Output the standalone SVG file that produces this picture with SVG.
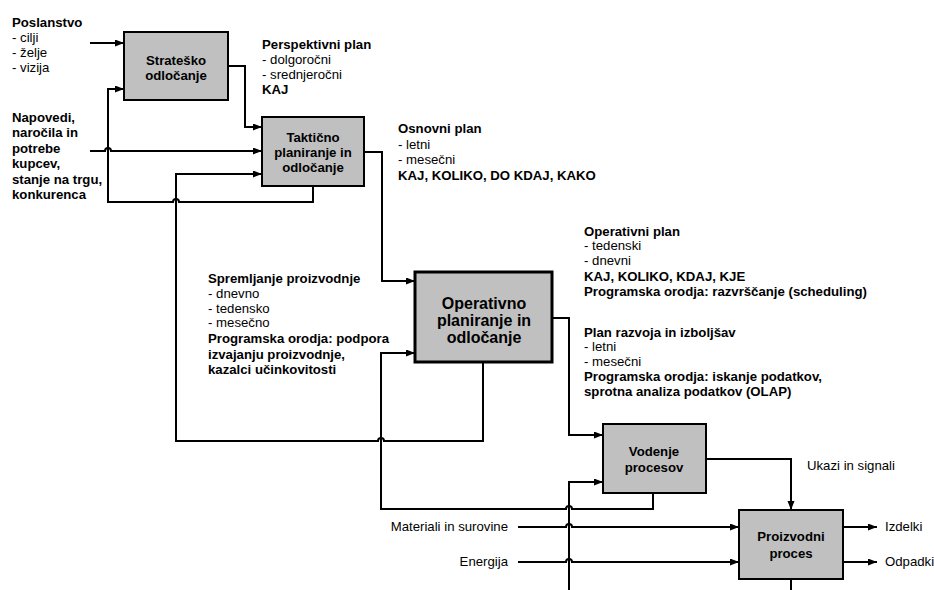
<svg xmlns="http://www.w3.org/2000/svg" width="934" height="590" viewBox="0 0 934 590">
<style>
text{font-family:"Liberation Sans",Arial,sans-serif;font-size:13.2px;fill:#000}
.b{font-weight:bold}
.c{text-anchor:middle}
.e{text-anchor:end}
.big{font-size:16px;font-weight:bold}
.box{fill:#c0c0c0;stroke:#000;stroke-width:2}
.ln{fill:none;stroke:#000;stroke-width:2}
.arr{marker-end:url(#ah)}
</style>
<defs>
<marker id="ah" markerUnits="userSpaceOnUse" markerWidth="10" markerHeight="8" refX="9" refY="3.5" orient="auto">
<path d="M0,0 L9,3.5 L0,7 z" fill="#000"/>
</marker>
</defs>
<rect width="934" height="590" fill="#fff"/>
<g id="connectors">
<path class="ln arr" d="M90,43 H124"/>
<path class="ln arr" d="M228,66 H245 V127 H262"/>
<path class="ln arr" d="M90,151 H105 a3,3 0 0 1 6,0 H262"/>
<path class="ln arr" d="M313,186 V202 H179 a3,3 0 0 0 -6,0 H108 V89 H124"/>
<path class="ln arr" d="M483,362 V441 H384 a3,3 0 0 0 -6,0 H176 V174 H262"/>
<path class="ln arr" d="M364,152 H382 V281 H415"/>
<path class="ln arr" d="M653,493 V509 H572 a3,3 0 0 0 -6,0 H381 V353 H415"/>
<path class="ln arr" d="M552,318 H569 V435 H603"/>
<path class="ln arr" d="M569,590 V482 H603"/>
<path class="ln arr" d="M706,459 H791 V510"/>
<path class="ln arr" d="M518,527 H566 a3,3 0 0 1 6,0 H739"/>
<path class="ln arr" d="M518,562 H566 a3,3 0 0 1 6,0 H739"/>
<path class="ln arr" d="M843,527 H877"/>
<path class="ln arr" d="M843,562 H877"/>
<path class="ln" d="M791,579 V590"/>
</g>
<g id="stratesko">
<rect class="box" x="124" y="32" width="104" height="68"/>
<text class="b c" x="176" y="65">Strateško</text>
<text class="b c" x="176" y="80">odločanje</text>
</g>
<g id="takticno">
<rect class="box" x="262" y="117" width="102" height="69"/>
<text class="b c" x="313" y="142">Taktično</text>
<text class="b c" x="313" y="157">planiranje in</text>
<text class="b c" x="313" y="172">odločanje</text>
</g>
<g id="operativno">
<rect class="box" x="415" y="272" width="137" height="90" style="stroke-width:3"/>
<text class="big c" x="484" y="309">Operativno</text>
<text class="big c" x="484" y="326">planiranje in</text>
<text class="big c" x="484" y="343">odločanje</text>
</g>
<g id="vodenje">
<rect class="box" x="603" y="424" width="103" height="69"/>
<text class="b c" x="654" y="456">Vodenje</text>
<text class="b c" x="654" y="472">procesov</text>
</g>
<g id="proizvodni">
<rect class="box" x="739" y="510" width="104" height="69"/>
<text class="b c" x="791" y="541">Proizvodni</text>
<text class="b c" x="791" y="558">proces</text>
</g>
<g id="labels">
<text class="b" x="12" y="27">Poslanstvo</text>
<text x="12" y="42">- cilji</text>
<text x="12" y="57">- želje</text>
<text x="12" y="72">- vizija</text>
<text class="b" x="12" y="122">Napovedi,</text>
<text class="b" x="12" y="137">naročila in</text>
<text class="b" x="12" y="153">potrebe</text>
<text class="b" x="12" y="168">kupcev,</text>
<text class="b" x="12" y="184">stanje na trgu,</text>
<text class="b" x="12" y="199">konkurenca</text>
<text class="b" x="262" y="49">Perspektivni plan</text>
<text x="262" y="64">- dolgoročni</text>
<text x="262" y="79">- srednjeročni</text>
<text class="b" x="262" y="94">KAJ</text>
<text class="b" x="398" y="133">Osnovni plan</text>
<text x="398" y="149">- letni</text>
<text x="398" y="164">- mesečni</text>
<text class="b" x="398" y="180">KAJ, KOLIKO, DO KDAJ, KAKO</text>
<text class="b" x="584" y="236">Operativni plan</text>
<text x="584" y="250">- tedenski</text>
<text x="584" y="265">- dnevni</text>
<text class="b" x="584" y="281">KAJ, KOLIKO, KDAJ, KJE</text>
<text class="b" x="584" y="296">Programska orodja: razvrščanje (scheduling)</text>
<text class="b" x="584" y="337">Plan razvoja in izboljšav</text>
<text x="584" y="351">- letni</text>
<text x="584" y="366">- mesečni</text>
<text class="b" x="584" y="381">Programska orodja: iskanje podatkov,</text>
<text class="b" x="584" y="396">sprotna analiza podatkov (OLAP)</text>
<text class="b" x="208" y="283">Spremljanje proizvodnje</text>
<text x="208" y="298">- dnevno</text>
<text x="208" y="313">- tedensko</text>
<text x="208" y="327">- mesečno</text>
<text class="b" x="208" y="343">Programska orodja: podpora</text>
<text class="b" x="208" y="359">izvajanju proizvodnje,</text>
<text class="b" x="208" y="374">kazalci učinkovitosti</text>
<text class="e" x="508" y="531">Materiali in surovine</text>
<text class="e" x="508" y="566">Energija</text>
<text x="807" y="470">Ukazi in signali</text>
<text x="885" y="531">Izdelki</text>
<text x="885" y="566">Odpadki</text>
</g>
</svg>
